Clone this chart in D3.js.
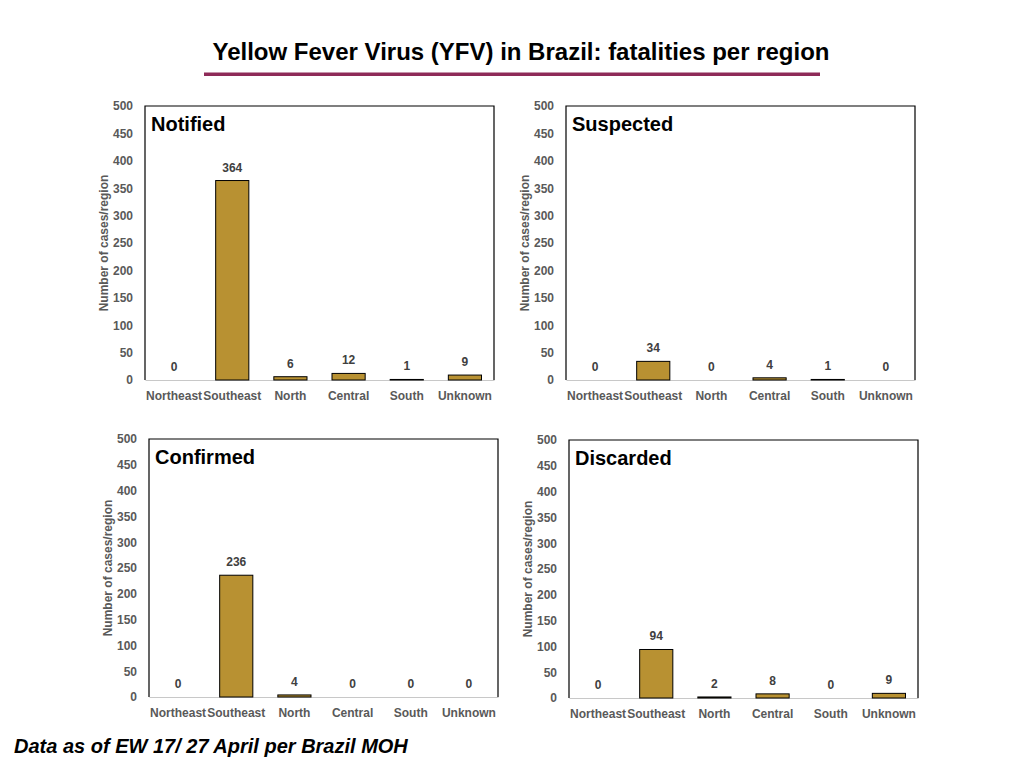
<!DOCTYPE html>
<html>
<head>
  <meta charset="utf-8">
  <title>YFV fatalities per region</title>
  <script src="https://cdnjs.cloudflare.com/ajax/libs/d3/7.8.5/d3.min.js"></script>
</head>
<style>
  body { margin: 0; background: #fff; }
  svg { display: block; font-family: "Liberation Sans", Arial, sans-serif; }
</style>
<body>
<svg id="svg" width="1024" height="768"></svg>
<script type="text/javascript">
  const regions = ['Northeast', 'Southeast', 'North', 'Central', 'South', 'Unknown'];
  const panelNames = ['Notified', 'Suspected', 'Confirmed', 'Discarded'];
  const notified = [0, 364, 6, 12, 1, 9];
  const suspected = [0, 34, 0, 4, 1, 0];
  const confirmed = [0, 236, 4, 0, 0, 0];
  const discarded = [0, 94, 2, 8, 0, 9];
  const yTicks = [0, 50, 100, 150, 200, 250, 300, 350, 400, 450, 500];

  const series = [notified, suspected, confirmed, discarded];

  // plot boxes of the four panels (left, top, right, bottom)
  const boxes = [
    [145, 106, 494, 380],
    [566, 106, 915, 380],
    [149, 439, 498, 697],
    [569, 440, 918, 698]
  ];

  const svg = d3.select('svg');

  svg.append('text')
    .attr('x', 521).attr('y', 60)
    .attr('text-anchor', 'middle')
    .attr('font-size', 24).attr('font-weight', 'bold')
    .attr('textLength', 617).attr('lengthAdjust', 'spacingAndGlyphs')
    .text('Yellow Fever Virus (YFV) in Brazil: fatalities per region');

  svg.append('rect')
    .attr('x', 204).attr('y', 72.5)
    .attr('width', 616).attr('height', 3.5)
    .attr('fill', '#8e2a58');

  svg.append('text')
    .attr('x', 14).attr('y', 753)
    .attr('font-size', 20).attr('font-weight', 'bold').attr('font-style', 'italic')
    .text('Data as of EW 17/ 27 April per Brazil MOH');

  series.forEach((vals, i) => {
    const [x0, y0, x1, y1] = boxes[i];
    const rows = regions.map((r, j) => ({ region: r, value: vals[j] }));
    const g = svg.append('g');

    const x = d3.scaleBand().domain(regions).range([x0, x1]).paddingInner(0.43).paddingOuter(0.215);
    const y = d3.scaleLinear().domain([0, 500]).range([y1, y0]);

    // frame
    g.append('path')
      .attr('d', `M${x0},${y1}V${y0}H${x1}V${y1}`)
      .attr('fill', 'none').attr('stroke', '#000').attr('stroke-width', 1.2);

    const yAxis = d3.axisLeft(y).tickValues(yTicks).tickSize(0).tickPadding(12);
    const yg = g.append('g').attr('transform', `translate(${x0},0)`).call(yAxis);
    yg.select('.domain').remove();
    yg.selectAll('text')
      .attr('font-family', '"Liberation Sans", Arial, sans-serif')
      .attr('font-size', 12).attr('font-weight', 'bold').attr('fill', '#595959');

    const xAxis = d3.axisBottom(x).tickSize(0).tickPadding(11);
    const xg = g.append('g').attr('transform', `translate(0,${y1})`).call(xAxis);
    xg.select('.domain').attr('stroke', '#c8c8c8').attr('stroke-width', 1.2);
    xg.selectAll('text')
      .attr('font-family', '"Liberation Sans", Arial, sans-serif')
      .attr('font-size', 12).attr('font-weight', 'bold').attr('fill', '#595959');

    g.selectAll('rect.bar')
      .data(rows.filter(d => d.value > 0))
      .enter()
      .append('rect')
      .attr('class', 'bar')
      .attr('x', d => x(d.region))
      .attr('y', d => y(d.value))
      .attr('width', x.bandwidth())
      .attr('height', d => y(0) - y(d.value))
      .attr('fill', '#b89132').attr('stroke', '#000').attr('stroke-width', 1);

    g.selectAll('text.val')
      .data(rows)
      .enter()
      .append('text')
      .attr('class', 'val')
      .attr('x', d => x(d.region) + x.bandwidth() / 2)
      .attr('y', d => y(d.value) - 9)
      .attr('text-anchor', 'middle')
      .attr('font-size', 12).attr('font-weight', 'bold').attr('fill', '#404040')
      .text(d => d.value);

    g.append('text')
      .attr('transform', `translate(${x0 - 37},${(y0 + y1) / 2}) rotate(-90)`)
      .attr('text-anchor', 'middle')
      .attr('font-size', 12).attr('font-weight', 'bold').attr('fill', '#595959')
      .text('Number of cases/region');

    g.append('text')
      .attr('x', x0 + 6).attr('y', y0 + 25)
      .attr('font-size', 20).attr('font-weight', 'bold').attr('fill', '#000')
      .text(panelNames[i]);
  });
</script>
</body>
</html>
